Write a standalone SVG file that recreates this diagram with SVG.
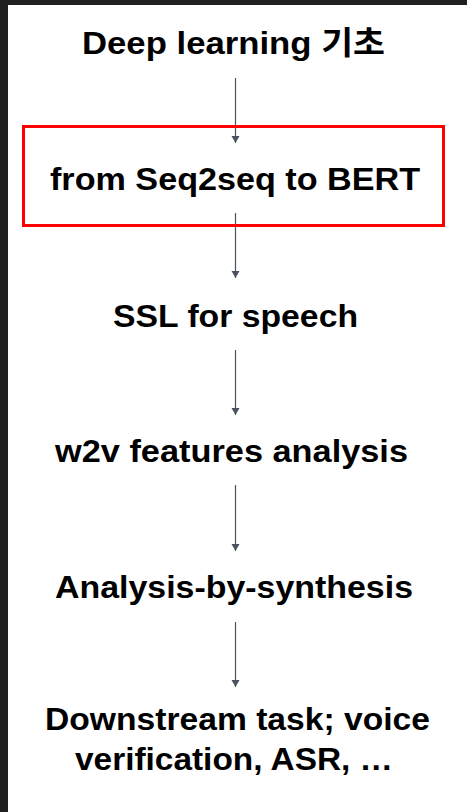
<svg xmlns="http://www.w3.org/2000/svg" width="467" height="812" viewBox="0 0 467 812">
  <style>
    .t { font-family: "Liberation Sans", Arial, "Noto Sans CJK KR", sans-serif; font-weight: bold; font-size: 32px; fill: #000; text-anchor: middle; }
    .c { stroke: #4a5161; stroke-width: 1.2; fill: none; marker-end: url(#ah); }
  </style>
  <defs>
    <marker id="ah" markerUnits="userSpaceOnUse" markerWidth="8" markerHeight="9" refX="7" refY="4.5" orient="auto">
      <path d="M0,0.5 L7,4.5 L0,8.5 z" fill="#4a5161"/>
    </marker>
  </defs>
  <rect x="0" y="0" width="467" height="812" fill="#ffffff"/>
  <rect x="0" y="0" width="467" height="5" fill="#202020"/>
  <rect x="0" y="0" width="8" height="812" fill="#202020"/>

  <g id="connectors">
    <line class="c" x1="235.5" y1="78" x2="235.5" y2="143"/>
    <line class="c" x1="235.5" y1="213" x2="235.5" y2="278"/>
    <line class="c" x1="235.5" y1="350" x2="235.5" y2="415"/>
    <line class="c" x1="235.5" y1="485" x2="235.5" y2="551"/>
    <line class="c" x1="235.5" y1="622" x2="235.5" y2="687"/>
  </g>

  <g id="n1">
    <text class="t" x="233.5" y="54" textLength="303" lengthAdjust="spacingAndGlyphs">Deep learning 기초</text>
  </g>
  <g id="n2">
    <rect x="23.5" y="126.5" width="420" height="99" fill="none" stroke="#ff0000" stroke-width="3"/>
    <text class="t" x="235" y="190" textLength="370" lengthAdjust="spacingAndGlyphs">from Seq2seq to BERT</text>
  </g>
  <g id="n3">
    <text class="t" x="235.5" y="327" textLength="245" lengthAdjust="spacingAndGlyphs">SSL for speech</text>
  </g>
  <g id="n4">
    <text class="t" x="231.5" y="462" textLength="353" lengthAdjust="spacingAndGlyphs">w2v features analysis</text>
  </g>
  <g id="n5">
    <text class="t" x="234" y="598" textLength="358" lengthAdjust="spacingAndGlyphs">Analysis-by-synthesis</text>
  </g>
  <g id="n6">
    <text class="t" x="237.5" y="730" textLength="385" lengthAdjust="spacingAndGlyphs">Downstream task; voice</text>
    <text class="t" x="234" y="770" textLength="318" lengthAdjust="spacingAndGlyphs">verification, ASR, …</text>
  </g>
</svg>
